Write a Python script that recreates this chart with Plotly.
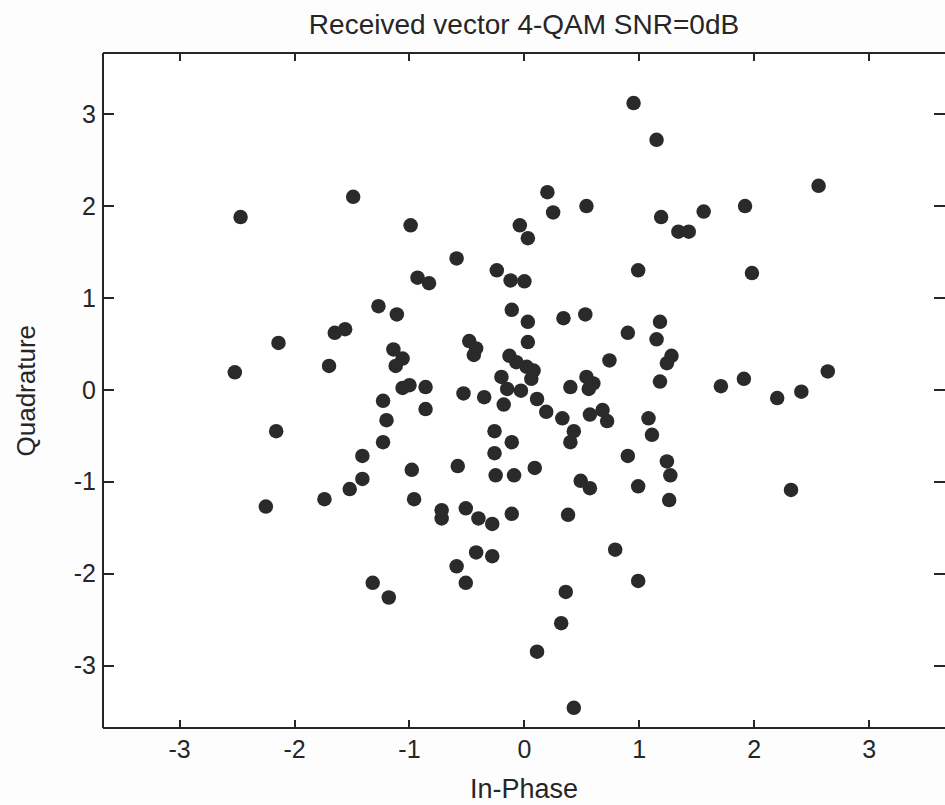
import plotly.graph_objects as go

# Received symbols (In-Phase, Quadrature)
in_phase = [
    -2.47, -1.49, -0.99, -0.04, 0.03, -0.59, -0.24, -0.93, -0.83, -0.12,
    0.00, 0.20, 0.25, 0.54, 0.95, 1.15, 1.19, 1.34, 1.43, 0.99,
    1.56, 1.92, 2.56, 1.98, -1.27, -1.11, -1.56, -1.65, -2.14, -1.14,
    -1.06, -1.12, -1.70, -2.52, -1.06, -1.00, -1.23, -1.20, -2.16, -1.23,
    -1.41, -1.41, -1.52, -1.74, -2.25, -0.11, 0.03, 0.34, 0.53, 1.18,
    0.90, 1.15, -0.48, -0.42, -0.44, 0.03, 1.28, 1.24, 0.74, -0.13,
    -0.07, 0.02, 0.08, 0.06, -0.20, -0.15, -0.03, 0.54, 0.60, 0.56,
    0.40, 1.18, -0.86, -0.86, -0.53, -0.35, -0.18, 0.11, 0.19, 0.33,
    0.57, 0.68, 0.72, 1.08, 1.11, 0.43, 0.40, -0.26, -0.11, -0.26,
    0.90, 1.24, 1.27, 0.99, 1.26, 0.49, 0.57, -0.98, -0.58, -0.25,
    -0.09, 0.09, -0.96, -0.72, -0.72, -0.51, -0.40, -0.28, -0.11, 0.38,
    1.71, 1.91, 2.20, 2.41, 2.64, 2.32, -1.32, -1.18, -0.42, -0.28,
    -0.59, -0.51, 0.36, 0.32, 0.11, 0.43, 0.79, 0.99,
]
quadrature = [
    1.88, 2.10, 1.79, 1.79, 1.65, 1.43, 1.30, 1.22, 1.16, 1.19,
    1.18, 2.15, 1.93, 2.00, 3.12, 2.72, 1.88, 1.72, 1.72, 1.30,
    1.94, 2.00, 2.22, 1.27, 0.91, 0.82, 0.66, 0.62, 0.51, 0.44,
    0.34, 0.26, 0.26, 0.19, 0.02, 0.05, -0.12, -0.33, -0.45, -0.57,
    -0.72, -0.97, -1.08, -1.19, -1.27, 0.87, 0.74, 0.78, 0.82, 0.74,
    0.62, 0.55, 0.53, 0.45, 0.38, 0.52, 0.37, 0.29, 0.32, 0.37,
    0.30, 0.25, 0.21, 0.12, 0.14, 0.01, -0.01, 0.14, 0.07, 0.01,
    0.03, 0.09, 0.03, -0.21, -0.04, -0.08, -0.16, -0.10, -0.24, -0.31,
    -0.27, -0.22, -0.34, -0.31, -0.49, -0.45, -0.57, -0.45, -0.57, -0.69,
    -0.72, -0.78, -0.93, -1.05, -1.20, -0.99, -1.07, -0.87, -0.83, -0.93,
    -0.93, -0.85, -1.19, -1.31, -1.40, -1.29, -1.40, -1.46, -1.35, -1.36,
    0.04, 0.12, -0.09, -0.02, 0.20, -1.09, -2.10, -2.26, -1.77, -1.81,
    -1.92, -2.10, -2.20, -2.54, -2.85, -3.46, -1.74, -2.08,
]

tick_values = [-3, -2, -1, 0, 1, 2, 3]
tick_labels = ["-3", "-2", "-1", "0", "1", "2", "3"]

title_text = "Received vector 4-QAM SNR=0dB"
x_title = "In-Phase"
y_title = "Quadrature"

FONT = "Liberation Sans, Arial, sans-serif"
INK = "#262626"

fig = go.Figure(
    go.Scatter(
        x=in_phase,
        y=quadrature,
        mode="markers",
        marker=dict(size=14.5, color="#2a2a2a", line=dict(width=0)),
        showlegend=False,
    )
)

W, H = 945, 805
ML, MR, MT, MB = 103, 0, 53, 77
PW, PH = W - ML - MR, H - MT - MB

axis_common = dict(
    tickvals=tick_values,
    ticktext=tick_labels,
    ticks="inside",
    tickwidth=1.5,
    tickcolor=INK,
    showline=False,
    mirror="ticks",
    showgrid=False,
    zeroline=False,
    tickfont=dict(family=FONT, size=25, color=INK),
)

# box on left, top and bottom (the right edge falls just outside the picture)
frame = [
    dict(type="line", xref="paper", yref="paper", x0=0, x1=0, y0=0, y1=1),
    dict(type="line", xref="paper", yref="paper", x0=0, x1=1, y0=0, y1=0),
    dict(type="line", xref="paper", yref="paper", x0=0, x1=1, y0=1, y1=1),
]
for s in frame:
    s["line"] = dict(color=INK, width=2)

fig.update_layout(
    width=W,
    height=H,
    margin=dict(l=ML, r=MR, t=MT, b=MB, pad=0),
    paper_bgcolor="#fdfdfd",
    plot_bgcolor="#ffffff",
    xaxis=dict(range=[-3.667, 3.66], ticklen=8, ticklabelstandoff=4, **axis_common),
    yaxis=dict(range=[-3.68, 3.665], ticklen=11, ticklabelstandoff=6, **axis_common),
    shapes=frame,
    title=dict(
        text=title_text,
        x=0.5,
        xref="paper",
        xanchor="center",
        y=1 - 24 / H,
        yref="container",
        yanchor="middle",
        font=dict(family=FONT, size=28, color=INK),
    ),
    annotations=[
        dict(
            text=x_title,
            x=0.5,
            xref="paper",
            y=-(789 - (MT + PH)) / PH,
            yref="paper",
            xanchor="center",
            yanchor="middle",
            showarrow=False,
            font=dict(family=FONT, size=27, color=INK),
        ),
        dict(
            text=y_title,
            x=(25 - ML) / PW,
            xref="paper",
            y=0.5,
            yref="paper",
            xanchor="center",
            yanchor="middle",
            textangle=-90,
            showarrow=False,
            font=dict(family=FONT, size=26, color=INK),
        ),
    ],
)

fig.write_html("out.html")
